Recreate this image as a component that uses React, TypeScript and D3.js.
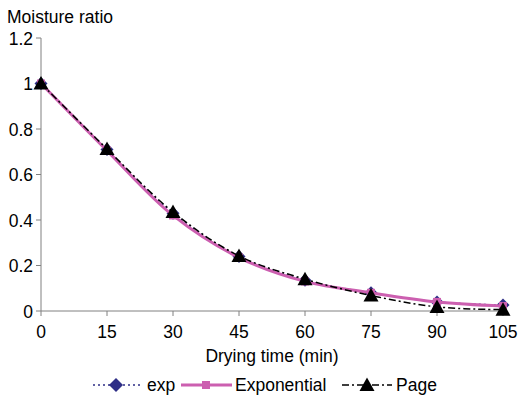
import React from 'react';
import * as d3 from 'd3';

// Drying time (min)
const times = [0, 15, 30, 45, 60, 75, 90, 105];
// Moisture ratio series
const expValues = [1, 0.71, 0.43, 0.24, 0.135, 0.08, 0.04, 0.026];
const exponentialValues = [1, 0.705, 0.42, 0.235, 0.13, 0.08, 0.04, 0.022];
const pageValues = [1, 0.712, 0.435, 0.242, 0.14, 0.068, 0.018, 0.006];
const yTicks = [0, 0.2, 0.4, 0.6, 0.8, 1, 1.2];

const width = 521;
const height = 400;
const font = 'Liberation Sans, Arial, sans-serif';
const fs = 17.5;

const App = () => {
  const x = d3.scaleLinear().domain([0, 105]).range([41, 503]);
  const y = d3.scaleLinear().domain([0, 1.2]).range([311, 38]);

  const line = d3
    .line<number>()
    .x((d, i) => x(times[i]))
    .y((d) => y(d))
    .curve(d3.curveCatmullRom.alpha(0.5));

  const diamond = (cx: number, cy: number, r = 6.5) =>
    `M${cx},${cy - r}L${cx + r},${cy}L${cx},${cy + r}L${cx - r},${cy}Z`;
  const triangle = (cx: number, cy: number, s = 7.5) =>
    `M${cx},${cy - s}L${cx + s},${cy + s * 0.8}L${cx - s},${cy + s * 0.8}Z`;

  const expColor = '#2e2e86';
  const pink = '#cc5fb0';

  return (
    <svg width={width} height={height} style={{ position: 'absolute', left: 0, top: 0 }}>
      <rect width={width} height={height} fill="white" />
      <text x={7} y={23} fontFamily={font} fontSize={fs} fill="#000">
        Moisture ratio
      </text>

      {/* axes */}
      <line x1={41} x2={41} y1={38} y2={311} stroke="#808080" strokeWidth={1} />
      <line x1={41} x2={503} y1={311} y2={311} stroke="#808080" strokeWidth={1} />
      {yTicks.map((t) => (
        <g key={t}>
          <line x1={36} x2={41} y1={y(t)} y2={y(t)} stroke="#808080" />
          <text x={33} y={y(t) + 6.5} textAnchor="end" fontFamily={font} fontSize={fs}>
            {t}
          </text>
        </g>
      ))}
      {times.map((t) => (
        <g key={t}>
          <line x1={x(t)} x2={x(t)} y1={311} y2={316} stroke="#808080" />
          <text x={x(t)} y={338} textAnchor="middle" fontFamily={font} fontSize={fs}>
            {t}
          </text>
        </g>
      ))}
      <text x={272} y={362} textAnchor="middle" fontFamily={font} fontSize={fs}>
        Drying time (min)
      </text>

      {/* exp */}
      <path d={line(expValues) || ''} fill="none" stroke={expColor} strokeWidth={1.5} strokeDasharray="2,3" />
      {expValues.map((v, i) => (
        <path key={i} d={diamond(x(times[i]), y(v))} fill={expColor} />
      ))}

      {/* Exponential */}
      <path d={line(exponentialValues) || ''} fill="none" stroke={pink} strokeWidth={3} />
      {exponentialValues.map((v, i) => (
        <rect key={i} x={x(times[i]) - 4} y={y(v) - 4} width={8} height={8} fill={pink} />
      ))}

      {/* Page */}
      <path d={line(pageValues) || ''} fill="none" stroke="#000" strokeWidth={1.5} strokeDasharray="7,3,2,3" />
      {pageValues.map((v, i) => (
        <path key={i} d={triangle(x(times[i]), y(v))} fill="#000" />
      ))}

      {/* legend */}
      <line x1={93} x2={141} y1={385} y2={385} stroke={expColor} strokeWidth={1.5} strokeDasharray="2,3" />
      <path d={diamond(116, 385, 7)} fill={expColor} />
      <text x={147} y={391} fontFamily={font} fontSize={fs}>exp</text>

      <line x1={181} x2={232} y1={385} y2={385} stroke={pink} strokeWidth={3} />
      <rect x={202} y={381} width={8} height={8} fill={pink} />
      <text x={235} y={391} fontFamily={font} fontSize={fs}>Exponential</text>

      <line x1={342} x2={392} y1={385} y2={385} stroke="#000" strokeWidth={1.5} strokeDasharray="7,3,2,3" />
      <path d={triangle(367, 385, 7.5)} fill="#000" />
      <text x={396} y={391} fontFamily={font} fontSize={fs}>Page</text>
    </svg>
  );
};

export default App;
